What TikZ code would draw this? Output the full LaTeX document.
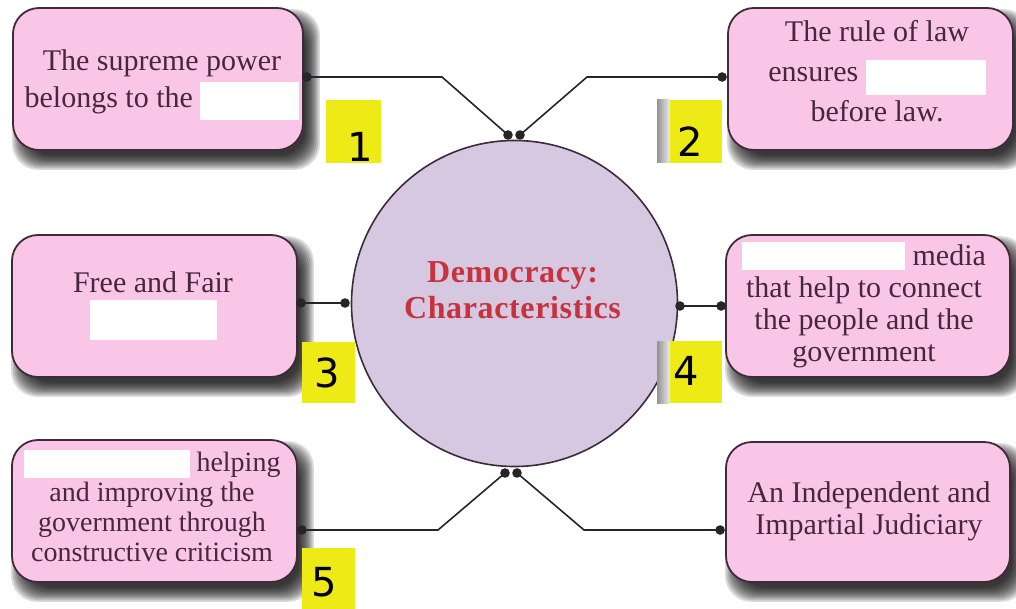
\documentclass[tikz,border=0pt]{standalone}
\usepackage{fontspec}
\setmainfont{Liberation Serif}
\newfontfamily\numfont{DejaVu Sans}
\newfontfamily\titlefont[LetterSpace=2.0]{Liberation Serif}
\usetikzlibrary{calc,backgrounds}
\definecolor{boxpink}{RGB}{250,198,232}
\definecolor{boxline}{RGB}{62,42,56}
\definecolor{txtcol}{RGB}{70,40,58}
\definecolor{circfill}{RGB}{214,200,224}
\definecolor{titlered}{RGB}{200,50,62}
\definecolor{labyellow}{RGB}{238,234,22}
\definecolor{conncol}{RGB}{40,36,40}
\newcommand\gap[3]{\smash{\textcolor{white}{\rule[-#1pt]{#2pt}{#3pt}}}}
\newcommand\softshadow[1]{%
  \foreach \i in {0,...,9}{%
    \fill[shadowstep] ($(#1.north west)+(0+\i*1.6,2+\i*1.6)$) rectangle ($(#1.south east)+(16-\i*1.6,19-\i*1.6)$);}}
\tikzset{
  pinkbox/.style={draw=boxline, line width=1.8pt, fill=boxpink, rounded corners=26pt, inner sep=0pt},
  shadowstep/.style={fill=black, opacity=0.14, rounded corners=26pt},
  boxtext/.style={align=center, text=txtcol, inner sep=0pt, font=\fontsize{30}{37}\selectfont},
  conn/.style={draw=conncol, line width=1.6pt},
  dot/.style={fill=conncol},
  numtext/.style={inner sep=0pt, font=\numfont\fontsize{40}{42}\selectfont, text=black},
  yellowlab/.style={fill=labyellow},
  graystrip/.style={left color=gray!85, right color=gray!15},
}
\begin{document}
\begin{tikzpicture}[x=1pt,y=-1pt]
\useasboundingbox (0,0) rectangle (1016,609);

% central circle
\node[circle, draw=boxline, line width=1.6pt, fill=circfill, minimum size=326pt, inner sep=0pt] (hub) at (514.5,303.5) {};
\node[align=center, text=titlered, inner sep=0pt, font=\titlefont\bfseries\fontsize{32}{36}\selectfont] (title) at (512.5,290) {Democracy:\\Characteristics};

% boxes
\node[pinkbox, minimum width=290pt, minimum height=142pt] (b1) at (158,79) {};
\node[pinkbox, minimum width=285pt, minimum height=142pt] (b2) at (870.5,79) {};
\node[pinkbox, minimum width=285pt, minimum height=142pt] (b3) at (154.5,306) {};
\node[pinkbox, minimum width=284pt, minimum height=142pt] (b4) at (868,306) {};
\node[pinkbox, minimum width=285pt, minimum height=142pt] (b5) at (154.5,511) {};
\node[pinkbox, minimum width=284pt, minimum height=140pt] (b6) at (868,512) {};

\begin{scope}[on background layer]
  \softshadow{b1}\softshadow{b2}\softshadow{b3}\softshadow{b4}\softshadow{b5}\softshadow{b6}
\end{scope}

% box texts
\node[boxtext] (txt1) at (162,81.8) {The supreme power\\belongs to the \gap{13}{99}{38}};
\node[boxtext, font=\fontsize{30}{40}\selectfont] (txt2) at (877,71) {The rule of law\\ensures \gap{14}{120}{35}\\before law.};
\node[boxtext] (txt3) at (153,300.5) {Free and Fair\\\gap{11}{127}{40}};
\node[boxtext, font=\fontsize{30}{32}\selectfont] (txt4) at (864,306) {\gap{5}{163}{28} media\\that help to connect\\the people and the\\government};
\node[boxtext, font=\fontsize{28}{30}\selectfont] (txt5) at (152,506.5) {\gap{7}{166}{28} helping\\and improving the\\government through\\constructive criticism};
\node[boxtext, font=\fontsize{30}{32}\selectfont] (txt6) at (869,511) {An Independent and\\Impartial Judiciary};

% connector points
\coordinate (t1) at (508,135);
\coordinate (t2) at (520,135);
\coordinate (l3) at (345,303);
\coordinate (r4) at (680,306);
\coordinate (u5) at (505,473);
\coordinate (u6) at (517,473);
\coordinate (k1) at (442,77);
\coordinate (k2) at (587,77);
\coordinate (k5) at (438,530);
\coordinate (k6) at (584,530);
\coordinate (e1) at ($(b1.east |- k1)+(3,0)$);
\coordinate (e2) at ($(b2.west |- k2)+(-5,0)$);
\coordinate (e3) at ($(b3.east |- l3)+(3,0)$);
\coordinate (e4) at ($(b4.west |- r4)+(-4,0)$);
\coordinate (e5) at ($(b5.east |- k5)+(4,0)$);
\coordinate (e6) at ($(b6.west |- k6)+(-5,0)$);

\draw[conn] (e1) -- (k1) -- (t1);
\draw[conn] (t2) -- (k2) -- (e2);
\draw[conn] (e3) -- (l3);
\draw[conn] (r4) -- (e4);
\draw[conn] (e5) -- (k5) -- (u5);
\draw[conn] (u6) -- (k6) -- (e6);
\foreach \p in {t1,t2,l3,r4,u5,u6,e1,e2,e3,e4,e5,e6}
  \fill[dot] (\p) circle (4.8pt);

% number labels
\fill[yellowlab] (326,100) rectangle (381,163);
\shade[graystrip] (657,100) rectangle (670,163);
\fill[yellowlab] (670,100) rectangle (722,163);
\fill[yellowlab] (302,342) rectangle (355,403);
\shade[graystrip] (657,341) rectangle (670,403);
\fill[yellowlab] (670,341) rectangle (722,403);
\fill[yellowlab] (302,548) rectangle (355,609);

\node[numtext] (n1) at (360,147) {1};
\node[numtext] (n2) at (690,142) {2};
\node[numtext] (n3) at (327,373) {3};
\node[numtext] (n4) at (686,371) {4};
\node[numtext] (n5) at (324,582) {5};
\end{tikzpicture}
\end{document}
